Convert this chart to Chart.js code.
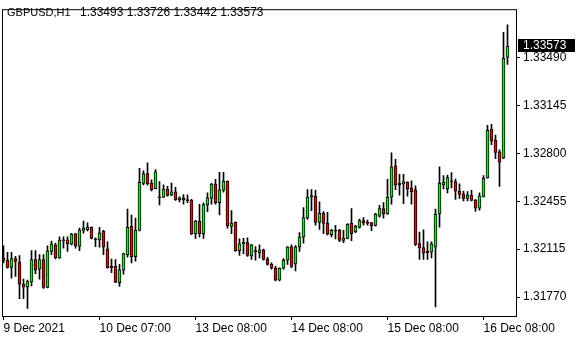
<!DOCTYPE html>
<html>
<head>
<meta charset="utf-8">
<script src="https://cdn.jsdelivr.net/npm/chart.js@4"></script>
<style>
html, body { margin: 0; padding: 0; background: #fff; }
#chart { display: block; }
</style>
</head>
<body>
<canvas id="chart" width="580" height="340"></canvas>
<script>
const symbol = 'GBPUSD,H1'

// hourly candles, oldest first
const opens = [1.32051,1.32035,1.31984,1.32047,1.32019,1.31863,1.31842,1.31879,1.32040,1.31970,
  1.32040,1.31839,1.32098,1.32145,1.32051,1.32182,1.32182,1.32150,1.32224,1.32135,
  1.32249,1.32254,1.32271,1.32188,1.32180,1.32245,1.32117,1.31991,1.31991,1.31874,
  1.31963,1.32075,1.32281,1.32061,1.32249,1.32587,1.32657,1.32589,1.32549,1.32491,
  1.32489,1.32547,1.32503,1.32526,1.32468,1.32484,1.32470,1.32468,1.32224,1.32316,
  1.32226,1.32433,1.32479,1.32582,1.32449,1.32538,1.32603,1.32278,1.32307,1.32103,
  1.32152,1.32161,1.32068,1.32105,1.32089,1.32110,1.32042,1.32005,1.31979,1.31891,
  1.31977,1.32035,1.32131,1.32009,1.32133,1.32201,1.32339,1.32489,1.32496,1.32307,
  1.32372,1.32302,1.32219,1.32250,1.32250,1.32177,1.32192,1.32302,1.32238,1.32271,
  1.32320,1.32308,1.32306,1.32285,1.32352,1.32407,1.32367,1.32489,1.32714,1.32589,
  1.32584,1.32596,1.32554,1.32540,1.32154,1.32126,1.32098,1.32093,1.32128,1.32367,
  1.32577,1.32549,1.32605,1.32601,1.32531,1.32512,1.32479,1.32503,1.32465,1.32409,
  1.32494,1.32626,1.32975,1.32898,1.32814,1.32770,1.33493]
const highs = [1.32138,1.32091,1.32091,1.32063,1.32068,1.31900,1.31893,1.32105,1.32105,1.32075,
  1.32075,1.32138,1.32173,1.32157,1.32203,1.32203,1.32203,1.32229,1.32229,1.32266,
  1.32316,1.32304,1.32275,1.32196,1.32271,1.32249,1.32168,1.32044,1.32040,1.32005,
  1.32086,1.32402,1.32360,1.32337,1.32695,1.32678,1.32735,1.32612,1.32686,1.32601,
  1.32577,1.32566,1.32589,1.32559,1.32491,1.32507,1.32505,1.32472,1.32321,1.32437,
  1.32447,1.32519,1.32587,1.32617,1.32667,1.32667,1.32605,1.32391,1.32310,1.32188,
  1.32192,1.32196,1.32150,1.32133,1.32145,1.32115,1.32056,1.32016,1.31991,1.31981,
  1.32047,1.32133,1.32145,1.32140,1.32233,1.32414,1.32542,1.32542,1.32538,1.32454,
  1.32384,1.32379,1.32257,1.32286,1.32257,1.32250,1.32299,1.32407,1.32285,1.32331,
  1.32341,1.32324,1.32308,1.32372,1.32430,1.32449,1.32617,1.32807,1.32760,1.32652,
  1.32652,1.32598,1.32605,1.32570,1.32238,1.32254,1.32168,1.32168,1.32402,1.32707,
  1.32643,1.32647,1.32665,1.32619,1.32584,1.32531,1.32528,1.32538,1.32472,1.32519,
  1.32643,1.33004,1.33011,1.32935,1.32828,1.33673,1.33726]
const lows = [1.32016,1.31977,1.31906,1.31918,1.31758,1.31758,1.31688,1.31851,1.31939,1.31899,
  1.31832,1.31835,1.32075,1.32044,1.32048,1.32121,1.32098,1.32145,1.32121,1.32103,
  1.32229,1.32245,1.32188,1.32133,1.32128,1.32075,1.31977,1.31946,1.31874,1.31846,
  1.31935,1.32056,1.32016,1.32028,1.32245,1.32577,1.32575,1.32533,1.32547,1.32433,
  1.32484,1.32496,1.32498,1.32465,1.32454,1.32437,1.32449,1.32219,1.32192,1.32203,
  1.32192,1.32384,1.32437,1.32437,1.32360,1.32524,1.32266,1.32226,1.32098,1.32070,
  1.32082,1.32063,1.32040,1.32035,1.32051,1.32035,1.32000,1.31970,1.31886,1.31886,
  1.31970,1.32005,1.31981,1.31958,1.32098,1.32157,1.32328,1.32391,1.32286,1.32257,
  1.32226,1.32215,1.32203,1.32188,1.32168,1.32161,1.32188,1.32175,1.32233,1.32266,
  1.32286,1.32286,1.32247,1.32280,1.32345,1.32337,1.32365,1.32437,1.32542,1.32503,
  1.32442,1.32496,1.32437,1.32140,1.32040,1.32040,1.32040,1.32051,1.31699,1.32273,
  1.32547,1.32519,1.32554,1.32472,1.32479,1.32461,1.32461,1.32461,1.32386,1.32395,
  1.32489,1.32624,1.32865,1.32765,1.32566,1.32765,1.33442]
const closes = [1.32033,1.31984,1.32047,1.32026,1.31863,1.31842,1.31881,1.32040,1.31963,1.32040,
  1.31839,1.32103,1.32152,1.32051,1.32180,1.32173,1.32154,1.32222,1.32140,1.32251,
  1.32266,1.32273,1.32192,1.32180,1.32232,1.32128,1.31981,1.31981,1.31877,1.31965,
  1.32082,1.32271,1.32061,1.32252,1.32594,1.32657,1.32585,1.32542,1.32670,1.32484,
  1.32547,1.32500,1.32526,1.32468,1.32484,1.32468,1.32463,1.32224,1.32316,1.32226,
  1.32435,1.32484,1.32582,1.32449,1.32540,1.32603,1.32283,1.32302,1.32103,1.32152,
  1.32163,1.32070,1.32145,1.32096,1.32110,1.32040,1.32005,1.31977,1.31891,1.31977,
  1.32035,1.32131,1.31991,1.32131,1.32203,1.32341,1.32489,1.32500,1.32307,1.32372,
  1.32300,1.32222,1.32250,1.32243,1.32177,1.32194,1.32292,1.32226,1.32278,1.32320,
  1.32303,1.32299,1.32283,1.32365,1.32407,1.32367,1.32489,1.32707,1.32575,1.32575,
  1.32601,1.32549,1.32528,1.32149,1.32126,1.32086,1.32089,1.32152,1.32367,1.32589,
  1.32594,1.32629,1.32598,1.32531,1.32507,1.32479,1.32503,1.32465,1.32409,1.32498,
  1.32624,1.32968,1.32893,1.32809,1.32739,1.33486,1.33573]

const xTickIdx = [0, 24, 48, 72, 96, 120]
const xTickLabels = ['9 Dec 2021', '10 Dec 07:00', '13 Dec 08:00', '14 Dec 08:00', '15 Dec 08:00', '16 Dec 08:00']
const yTicks = [1.33490, 1.33145, 1.32800, 1.32455, 1.32115, 1.31770]

const bullColor = '#00ff00'
const bearColor = '#ff0000'
const fontFamily = '"Liberation Sans", Arial, sans-serif'

const bodies = opens.map((o, i) => ({ x: i, y: [o, closes[i]] }))
const wicks = lows.map((l, i) => ({ x: i, y: [l, highs[i]] }))
const last = closes.length - 1

Chart.defaults.font.family = fontFamily
Chart.defaults.font.size = 12
Chart.defaults.color = '#000'

const overlay = {
  id: 'overlay',
  afterDraw(chart) {
    const { ctx, chartArea: a, scales } = chart
    ctx.save()
    ctx.strokeStyle = '#000'
    ctx.lineWidth = 1
    ctx.strokeRect(a.left - 0.5, a.top - 0.5, a.right - a.left + 1, a.bottom - a.top + 1)

    ctx.fillStyle = '#000'
    ctx.textBaseline = 'alphabetic'
    ctx.font = '11px ' + fontFamily
    ctx.fillText(symbol, 7, 16)
    ctx.font = '12px ' + fontFamily
    const ohlc = [opens[last], highs[last], lows[last], closes[last]].map(v => v.toFixed(5)).join(' ')
    ctx.fillText(ohlc, 80, 16)

    // current price tag
    const py = Math.round(scales.y.getPixelForValue(closes[last]))
    ctx.fillStyle = '#000'
    ctx.fillRect(a.right + 2, py - 7, 57, 13)
    ctx.fillStyle = '#fff'
    ctx.textBaseline = 'middle'
    ctx.fillText(closes[last].toFixed(5), a.right + 7, py)
    ctx.restore()
  }
}

const ctx = document.getElementById('chart').getContext('2d')
const chart = new Chart(ctx, {
  type: 'bar',
  data: {
    datasets: [{
      label: 'body',
      data: bodies,
      grouped: false,
      backgroundColor: opens.map((o, i) => closes[i] >= o ? bullColor : bearColor),
      borderColor: '#000',
      borderWidth: 1,
      borderSkipped: false,
      barPercentage: 1,
      categoryPercentage: 1,
      maxBarThickness: 3,
    }, {
      label: 'wick',
      data: wicks,
      grouped: false,
      backgroundColor: '#000',
      borderWidth: 0,
      barPercentage: 1,
      categoryPercentage: 1,
      maxBarThickness: 1,
    }]
  },
  options: {
    responsive: false,
    animation: false,
    devicePixelRatio: 1,
    layout: { padding: { left: 3, top: 3, right: 0, bottom: 0 } },
    plugins: {
      legend: { display: false },
      tooltip: { enabled: false },
    },
    scales: {
      x: {
        type: 'linear',
        offset: false,
        min: -0.125,
        max: 128.125,
        grid: { offset: false, drawOnChartArea: false, color: '#000', tickLength: 4 },
        border: { display: false },
        ticks: {
          autoSkip: false,
          maxRotation: 0,
          align: 'start',
          padding: 1,
          callback: (v, i) => xTickLabels[i],
        },
        afterBuildTicks: s => { s.ticks = xTickIdx.map(v => ({ value: v })) },
        afterFit: s => { s.height = 24 },
      },
      y: {
        position: 'right',
        beginAtZero: false,
        min: 1.31634,
        max: 1.33832,
        grid: { drawOnChartArea: false, color: '#000', tickLength: 4 },
        border: { display: false },
        ticks: {
          padding: 3,
          callback: v => v.toFixed(5),
        },
        afterBuildTicks: s => { s.ticks = yTicks.map(v => ({ value: v })) },
        afterFit: s => { s.width = 64 },
      }
    }
  },
  plugins: [overlay]
})
</script>
</body>
</html>
